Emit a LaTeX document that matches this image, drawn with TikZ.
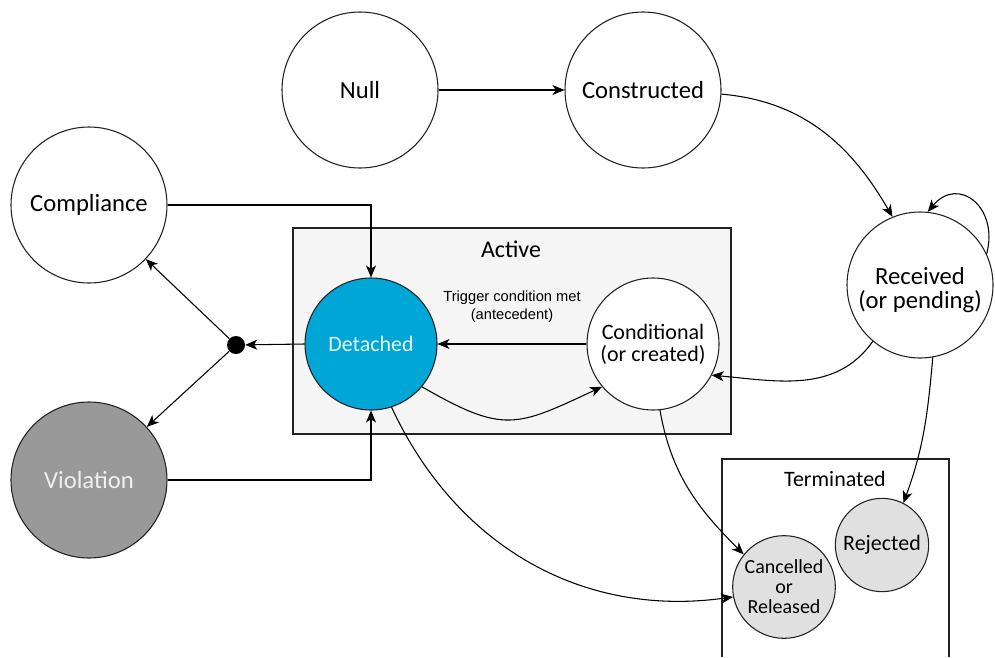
\documentclass[tikz,border=0pt]{standalone}
\usepackage{fontspec}
\setmainfont{Carlito}
\newfontfamily\arialfont{Liberation Sans}
\usetikzlibrary{arrows.meta}
\definecolor{detblue}{HTML}{00A6D6}
\definecolor{dettext}{HTML}{E6F7FB}
\definecolor{violgray}{HTML}{999999}
\definecolor{violtext}{HTML}{F0F0F0}
\definecolor{termfill}{HTML}{E0E0E0}
\definecolor{activefill}{HTML}{F5F5F5}
\definecolor{linecol}{HTML}{222222}
\tikzset{
  state/.style={circle, draw=linecol, line width=0.8pt, inner sep=0pt, align=center, fill=white},
  bigfont/.style={font=\fontsize{18.5}{22}\selectfont},
  midfont/.style={font=\fontsize{16.5}{16.5}\selectfont},
  smallfont/.style={font=\fontsize{15}{15}\selectfont},
  conn/.style={draw=black, line width=0.8pt, -{Stealth[length=9pt,width=7.5pt,inset=2.5pt]}},
  boxframe/.style={draw=linecol, line width=0.8pt},
}
\begin{document}
\begin{tikzpicture}[x=0.75pt,y=-0.75pt]
\useasboundingbox (0,0) rectangle (995,657);
% containers
\path[boxframe, fill=activefill] (293,228) rectangle (731,434);
\node[font=\fontsize{18}{18}\selectfont] (activelbl) at (511,249) {Active};
\draw[boxframe] (722,657) -- (722,459) -- (949,459) -- (949,657);
\node[font=\fontsize{16.5}{16.5}\selectfont] (termlbl) at (835,479) {Terminated};
% states
\node[state, bigfont, minimum size=117pt] (null) at (360,90) {Null};
\node[state, bigfont, minimum size=117pt] (constructed) at (643,90) {Constructed};
\node[state, bigfont, minimum size=117pt] (compliance) at (89,205) {Compliance};
\node[state, bigfont, minimum size=117pt, fill=violgray, text=violtext] (violation) at (89,480) {Violation};
\node[state, minimum size=109.5pt, label={[align=center, font=\fontsize{18.5}{18}\selectfont, yshift=-4pt]center:Received\\(or pending)}] (received) at (920,285) {};
\node[state, midfont, minimum size=99pt, fill=detblue, text=dettext] (detached) at (371,344) {Detached};
\node[state, midfont, minimum size=99pt] (conditional) at (653,344) {Conditional\\(or created)};
\node[state, smallfont, minimum size=77pt, fill=termfill] (cancelled) at (784,587) {Cancelled\\or\\Released};
\node[state, midfont, minimum size=70pt, fill=termfill] (rejected) at (882,545) {Rejected};
\node[circle, fill=black, inner sep=0pt, minimum size=13.5pt] (dot) at (236,345) {};
% connectors
\draw[conn] (null) -- (constructed);
\draw[conn] (constructed.-3) to[out=-5,in=120] (received.112);
\draw[conn] (received.25) to[out=75,in=50,looseness=1.7] (received.84);
\draw[conn] (received.-130) to[out=-125,in=-5] (conditional.-28);
\draw[conn] (received.-80) to[out=-95,in=70] (rejected.63);
\draw[conn] (conditional.west) -- node[above, yshift=12pt, font=\arialfont\fontsize{11}{14}\selectfont, align=center] {Trigger condition met\\(antecedent)} (detached.east);
\draw[conn] (detached.-40) to[out=-30,in=205,looseness=1.35] (conditional.-140);
\draw[conn] (detached.-72) to[out=-65,in=188] (cancelled.-169);
\draw[conn] (conditional.-84) to[out=-80,in=135] (cancelled.141);
\draw[conn] (detached.west) -- (dot);
\draw[conn] (dot) -- (compliance);
\draw[conn] (dot) -- (violation);
\draw[conn] (compliance.east) -| (detached.north);
\draw[conn] (violation.east) -| (detached.south);
\end{tikzpicture}
\end{document}
